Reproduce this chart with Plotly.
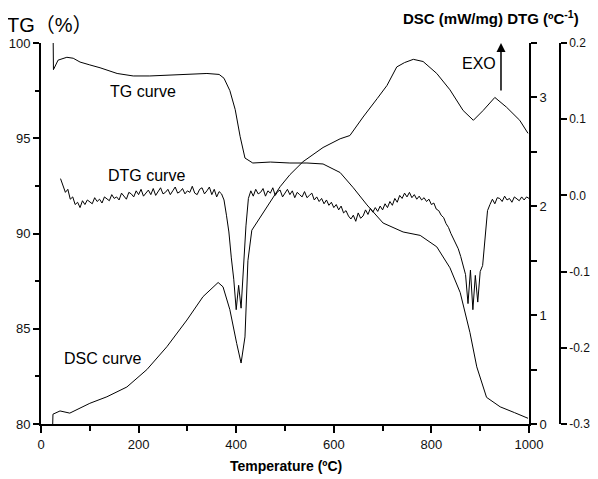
import plotly.graph_objects as go

# ---------------- data ----------------
tg_temp = [25, 25.5, 35, 53, 66, 80, 100, 121, 156, 189, 223, 260, 300, 340, 365, 375, 387, 398,
           408, 418, 434, 470, 510, 545, 578, 613, 640, 668, 701, 742, 777, 811, 838, 859, 879,
           893, 913, 941, 970, 998]
tg_val = [100, 98.6, 99.1, 99.25, 99.2, 99.0, 98.85, 98.7, 98.4, 98.27, 98.27, 98.3, 98.37, 98.4,
          98.35, 98.15, 97.5, 96.5, 95.1, 93.96, 93.7, 93.75, 93.7, 93.7, 93.65, 93.2, 92.4, 91.5,
          90.55, 90.08, 89.9, 89.3, 88.2, 86.9, 84.8, 83.0, 81.4, 80.9, 80.6, 80.3]

dsc_temp = [24, 24.5, 39, 59, 100, 135, 176, 217, 258, 299, 332, 363, 373, 387, 401, 410, 418, 424,
            432, 449, 490, 510, 537, 578, 613, 633, 660, 689, 709, 729, 745, 763, 783, 811, 838,
            865, 886, 906, 930, 954, 981, 998]
dsc_val = [0.0, 0.09, 0.12, 0.10, 0.19, 0.25, 0.34, 0.50, 0.71, 0.955, 1.17, 1.30, 1.26, 1.05, 0.74,
           0.56, 0.80, 1.50, 1.78, 1.90, 2.18, 2.29, 2.41, 2.54, 2.62, 2.65, 2.82, 2.99, 3.11, 3.28,
           3.32, 3.35, 3.33, 3.22, 3.07, 2.88, 2.79, 2.88, 3.00, 2.91, 2.79, 2.67]

dtg_temp = list(range(40, 1001, 5))
dtg_val = [
    0.022, 0.013, 0.004, 0.008, -0.005, -0.002, -0.012, -0.009, -0.016, -0.007,
    -0.012, -0.006, -0.009, -0.011, -0.003, -0.008, -0.005, -0.010, -0.002, -0.004,
    -0.007, 0.001, -0.004, -0.002, -0.006, 0.003, -0.001, -0.005, 0.004, 0.002,
    -0.002, 0.006, 0.001, 0.008, -0.001, 0.003, 0.007, 0.001, 0.009, 0.000,
    0.005, 0.010, 0.002, 0.004, 0.008, 0.001, 0.006, 0.011, 0.003, 0.005,
    0.009, 0.002, 0.006, 0.004, 0.012, 0.003, 0.001, 0.008, 0.010, 0.002,
    0.006, 0.011, 0.001, 0.008, -0.002, 0.005, 0.002, -0.006, -0.026, -0.048,
    -0.082, -0.110, -0.150, -0.118, -0.148, -0.095, -0.040, -0.004, 0.006, -0.001,
    0.008, 0.002, 0.004, 0.009, -0.001, 0.006, 0.003, 0.010, 0.000, 0.005,
    0.007, -0.002, 0.003, 0.008, 0.001, 0.006, -0.003, 0.004, 0.001, -0.002,
    0.005, -0.003, 0.000, 0.003, -0.006, -0.002, -0.008, -0.004, -0.011, -0.006,
    -0.013, -0.009, -0.016, -0.012, -0.019, -0.014, -0.023, -0.020, -0.027, -0.031,
    -0.026, -0.034, -0.023, -0.030, -0.027, -0.019, -0.025, -0.017, -0.022, -0.016,
    -0.021, -0.014, -0.019, -0.011, -0.016, -0.008, -0.013, -0.004, -0.009, 0.000,
    -0.004, 0.003, -0.002, 0.004, -0.003, 0.001, -0.005, -0.001, -0.006, -0.003,
    -0.008, -0.005, -0.012, -0.010, -0.018, -0.020, -0.026, -0.029, -0.037, -0.042,
    -0.050, -0.056, -0.062, -0.070, -0.080, -0.092, -0.104, -0.142, -0.098, -0.150,
    -0.105, -0.140, -0.100, -0.092, -0.060, -0.020, -0.012, -0.005, -0.011, -0.003,
    -0.004, -0.008, -0.001, -0.006, -0.004, -0.009, -0.002, -0.005, -0.007, -0.002,
    -0.006, -0.002, -0.004,
]

x_ticks = [0, 200, 400, 600, 800, 1000]
tg_ticks = [80, 85, 90, 95, 100]
dsc_ticks = [0, 1, 2, 3]
dtg_ticks = [-0.3, -0.2, -0.1, 0.0, 0.1, 0.2]
dtg_tick_labels = ["-0.3", "-0.2", "-0.1", "0.0", "0.1", "0.2"]

# ---------------- figure ----------------
FONT = "Liberation Sans, Arial, sans-serif"
line = dict(color="black", width=1)

fig = go.Figure()
fig.add_trace(go.Scatter(x=tg_temp, y=tg_val, mode="lines", line=line, yaxis="y", xaxis="x"))
fig.add_trace(go.Scatter(x=dsc_temp, y=dsc_val, mode="lines", line=line, yaxis="y2", xaxis="x"))
fig.add_trace(go.Scatter(x=dtg_temp, y=dtg_val, mode="lines", line=line, yaxis="y3", xaxis="x"))

xdom_end = 488 / 519
ydom_start = 5 / 386
tickfont = dict(family=FONT, size=13, color="#111")

# page body has an 8px default margin, so the figure is drawn 8px smaller / shifted
fig.update_layout(
    template="none",
    width=590, height=471,
    margin=dict(l=33, r=38, t=35, b=50, autoexpand=False),
    paper_bgcolor="white", plot_bgcolor="white",
    showlegend=False,
    font=dict(family=FONT, color="black"),
    xaxis=dict(
        domain=[0, xdom_end], range=[0, 1000], anchor="y", automargin=False,
        tickvals=x_ticks, ticks="outside", ticklen=7, tickwidth=1.5, tickcolor="black",
        minor=dict(dtick=100, tick0=0, ticks="outside", ticklen=5, tickwidth=1.5, tickcolor="black",
                   showgrid=False),
        showline=True, linecolor="black", linewidth=2, showgrid=False, zeroline=False,
        tickfont=tickfont,
    ),
    yaxis=dict(
        domain=[ydom_start, 1], range=[80, 100], anchor="x", automargin=False,
        tickvals=tg_ticks, ticks="outside", ticklen=6, tickwidth=1.5, tickcolor="black",
        minor=dict(dtick=2.5, tick0=80, ticks="outside", ticklen=4, tickwidth=1.5, tickcolor="black",
                   showgrid=False),
        showline=True, linecolor="black", linewidth=2, showgrid=False, zeroline=False,
        tickfont=tickfont,
    ),
    yaxis2=dict(
        domain=[ydom_start, 1], range=[0, 3.5], overlaying="y", side="right", anchor="x",
        automargin=False,
        tickvals=dsc_ticks, ticks="outside", ticklen=6, tickwidth=1.5, tickcolor="black",
        minor=dict(dtick=0.5, tick0=0, ticks="outside", ticklen=6, tickwidth=1.5, tickcolor="black",
                   showgrid=False),
        showline=True, linecolor="black", linewidth=2, showgrid=False, zeroline=False,
        tickfont=tickfont,
    ),
    yaxis3=dict(
        domain=[0, 1], range=[-0.3, 0.2], overlaying="y", side="right", anchor="free", position=1.0,
        automargin=False,
        tickvals=dtg_ticks, ticktext=dtg_tick_labels, ticks="outside", ticklen=6, tickwidth=1.5,
        tickcolor="black",
        showline=True, linecolor="black", linewidth=1.5, showgrid=False, zeroline=False,
        tickfont=dict(family=FONT, size=12, color="#111"),
    ),
)

ann_font = dict(family=FONT, size=16, color="black")
fig.add_annotation(text="TG curve", x=209, y=97.43, xref="x", yref="y", showarrow=False, font=ann_font)
fig.add_annotation(text="DTG curve", x=217, y=93.07, xref="x", yref="y", showarrow=False, font=ann_font)
fig.add_annotation(text="DSC curve", x=125, y=83.46, xref="x", yref="y", showarrow=False, font=ann_font)
fig.add_annotation(text="EXO", x=898, y=98.9, xref="x", yref="y", showarrow=False, font=ann_font)
fig.add_annotation(text="", x=942.6, y=100.0, xref="x", yref="y", ax=0, ay=49,
                   showarrow=True, arrowhead=2, arrowsize=1.2, arrowwidth=1.5, arrowcolor="black")

fig.add_annotation(text="TG（%）", x=-0.069, y=1.047, xref="paper", yref="paper",
                   xanchor="left", yanchor="middle", showarrow=False,
                   font=dict(family="Liberation Sans, Noto Sans CJK SC, sans-serif", size=20, color="black"))
fig.add_annotation(text="<b>DSC (mW/mg) DTG (ºC<sup>-1</sup>)</b>", x=0.867, y=1.067,
                   xref="paper", yref="paper", xanchor="center", yanchor="middle", showarrow=False,
                   font=dict(family=FONT, size=15, color="black"))
fig.add_annotation(text="<b>Temperature (ºC)</b>", x=0.472, y=-0.096,
                   xref="paper", yref="paper", xanchor="center", yanchor="middle", showarrow=False,
                   font=dict(family=FONT, size=14, color="black"))

fig.write_html("out.html")
